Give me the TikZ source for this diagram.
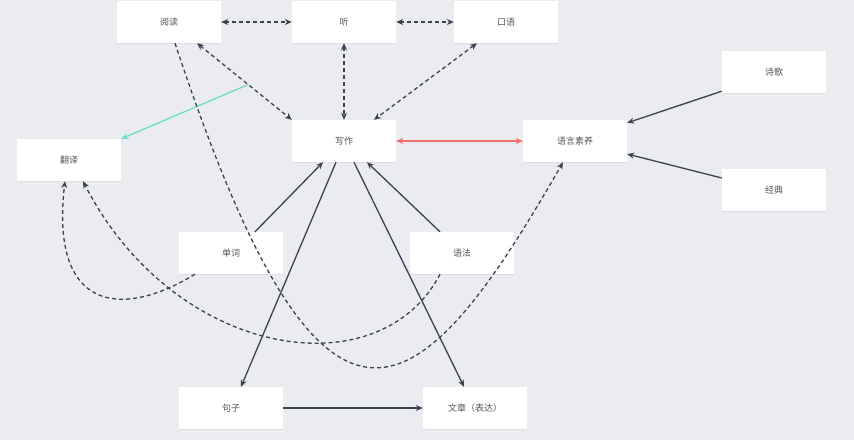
\documentclass[tikz,border=0pt]{standalone}
\usepackage{fontspec}
\newfontfamily\cjk{Noto Sans CJK SC}
\usetikzlibrary{calc,shadows,arrows.meta}
\definecolor{bg}{HTML}{EBECEF}
\definecolor{ink}{HTML}{3D4250}
\definecolor{txt}{HTML}{555555}
\definecolor{mint}{HTML}{6EDCC6}
\definecolor{coral}{HTML}{F26D6D}
\begin{document}
\begin{tikzpicture}[x=1pt,y=-1pt,>={Stealth[length=7pt,width=6pt]},
  box/.style={fill=white,minimum width=104pt,minimum height=42pt,inner sep=0pt,
    font=\cjk\fontsize{9}{11}\selectfont,text=txt,
    drop shadow={shadow xshift=0pt,shadow yshift=-1pt,opacity=0.12}},
  link/.style={ink,line width=1.3pt,->},
  dlink/.style={ink,line width=1.3pt,dash pattern=on 4pt off 3pt}]
  \useasboundingbox (0,0) rectangle (854,440);
  \fill[bg] (0,0) rectangle (854,440);
  % boxes
  \node[box] (yd) at (169,22) {阅读};
  \node[box] (ting) at (344,22) {听};
  \node[box] (ky) at (506,22) {口语};
  \node[box] (sg) at (774,72) {诗歌};
  \node[box] (xz) at (344,141) {写作};
  \node[box] (yysy) at (575,141) {语言素养};
  \node[box] (fy) at (69,160) {翻译};
  \node[box] (jd) at (774,190) {经典};
  \node[box] (dc) at (231,253) {单词};
  \node[box] (yf) at (462,253) {语法};
  \node[box] (jz) at (231,408) {句子};
  \node[box] (wz) at (475,408) {文章（表达）};
  % listening, reading, speaking
  \draw[dlink,<->] (yd.east) -- (ting.west);
  \draw[dlink,<->] (ting.east) -- (ky.west);
  \draw[dlink,<->] ([xshift=28pt]yd.south) -- (xz.north west);
  \draw[dlink,<->] (ting.south) -- (xz.north);
  \draw[dlink,<->] ([xshift=-29pt]ky.south) -- ([xshift=30pt]xz.north);
  \coordinate (g) at ($([xshift=28pt]yd.south)!0.54!(xz.north west)$);
  \draw[mint,line width=1.3pt,->] (g) -- (fy.north east);
  \draw[coral,line width=1.3pt,<->] (xz.east) -- (yysy.west);
  % solid links
  \draw[link] ([xshift=24pt]dc.north) -- ([xshift=-21pt]xz.south);
  \draw[link] ([xshift=-22pt]yf.north) -- ([xshift=23pt]xz.south);
  \draw[link] ([xshift=-8pt]xz.south) -- ([xshift=10pt]jz.north);
  \draw[link] ([xshift=10pt]xz.south) -- ([xshift=-11pt]wz.north);
  \draw[link] (jz.east) -- (wz.west);
  \draw[link] ([yshift=2pt]sg.south west) -- ([yshift=-3pt]yysy.north east);
  \draw[link] ([yshift=12pt]jd.west) -- ([yshift=-13pt]yysy.east);
  % dashed curves
  \draw[dlink,->] ([xshift=6pt]yd.south) .. controls (322,487) and (414,423) .. ([xshift=-12pt]yysy.south);
  \draw[dlink,->] ([xshift=-36pt]dc.south) .. controls (120,320) and (50,310) .. ([xshift=-4pt]fy.south);
  \draw[dlink,->] ([xshift=-22pt]yf.south) .. controls (380,390) and (175,360) .. ([xshift=14pt]fy.south);
\end{tikzpicture}
\end{document}
